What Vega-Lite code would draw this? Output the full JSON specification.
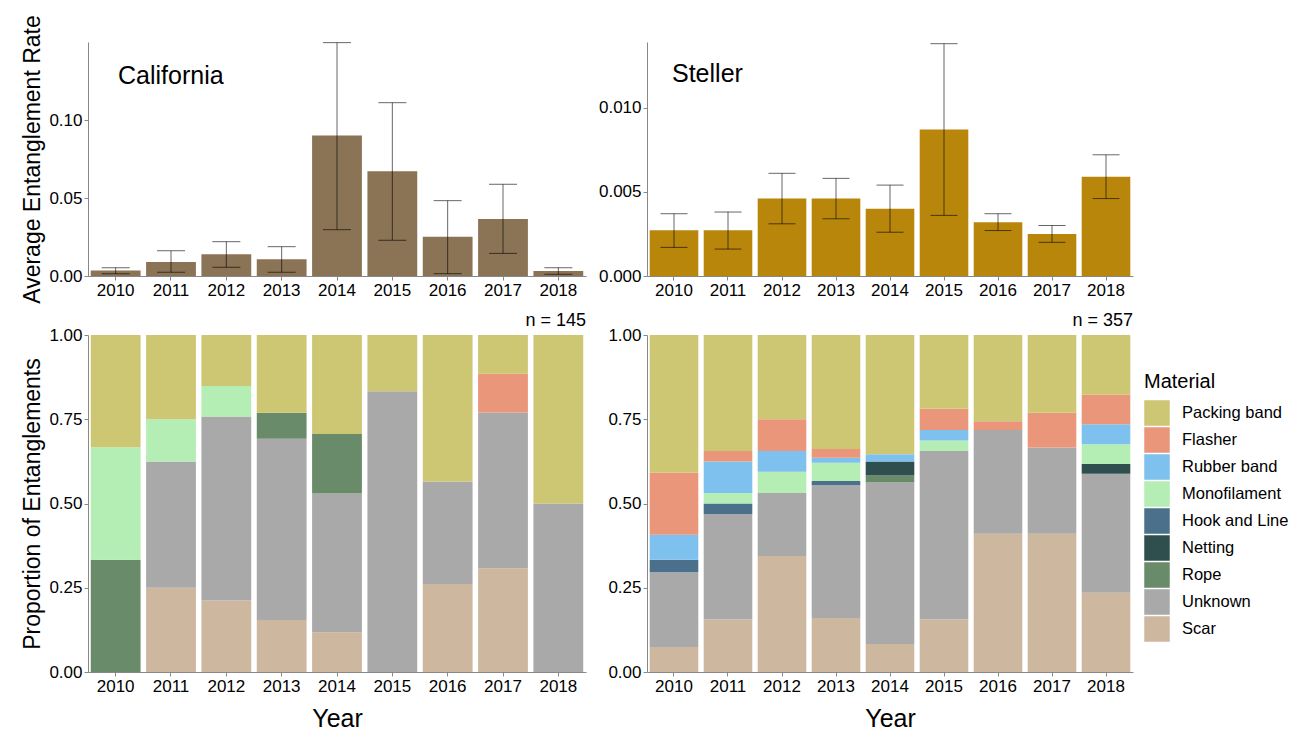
{
  "$schema": "https://vega.github.io/schema/vega-lite/v6.json",
  "padding": {"left": 21, "top": 14, "right": 5, "bottom": 2},
  "background": "white",
  "datasets": {
    "cal_rate": [
      {"year": "2010", "rate": 0.0036, "lo": 0.0015, "hi": 0.0053},
      {"year": "2011", "rate": 0.0090, "lo": 0.0024, "hi": 0.0162},
      {"year": "2012", "rate": 0.0139, "lo": 0.0056, "hi": 0.0220},
      {"year": "2013", "rate": 0.0107, "lo": 0.0024, "hi": 0.0188},
      {"year": "2014", "rate": 0.0900, "lo": 0.0297, "hi": 0.1496},
      {"year": "2015", "rate": 0.0671, "lo": 0.0229, "hi": 0.1111},
      {"year": "2016", "rate": 0.0252, "lo": 0.0015, "hi": 0.0483},
      {"year": "2017", "rate": 0.0365, "lo": 0.0145, "hi": 0.0588},
      {"year": "2018", "rate": 0.0032, "lo": 0.0011, "hi": 0.0053}
    ],
    "stel_rate": [
      {"year": "2010", "rate": 0.00272, "lo": 0.0017, "hi": 0.0037},
      {"year": "2011", "rate": 0.00272, "lo": 0.0016, "hi": 0.0038},
      {"year": "2012", "rate": 0.0046, "lo": 0.0031, "hi": 0.0061},
      {"year": "2013", "rate": 0.0046, "lo": 0.0034, "hi": 0.0058},
      {"year": "2014", "rate": 0.0040, "lo": 0.0026, "hi": 0.0054},
      {"year": "2015", "rate": 0.0087, "lo": 0.0036, "hi": 0.0138},
      {"year": "2016", "rate": 0.0032, "lo": 0.0027, "hi": 0.0037},
      {"year": "2017", "rate": 0.0025, "lo": 0.0020, "hi": 0.0030},
      {"year": "2018", "rate": 0.0059, "lo": 0.0046, "hi": 0.0072}
    ],
    "cal_prop": [
      {"year": "2010", "material": "Rope", "ord": 3, "p": 0.3333},
      {"year": "2010", "material": "Monofilament", "ord": 6, "p": 0.3333},
      {"year": "2010", "material": "Packing band", "ord": 9, "p": 0.3334},
      {"year": "2011", "material": "Scar", "ord": 1, "p": 0.25},
      {"year": "2011", "material": "Unknown", "ord": 2, "p": 0.375},
      {"year": "2011", "material": "Monofilament", "ord": 6, "p": 0.125},
      {"year": "2011", "material": "Packing band", "ord": 9, "p": 0.25},
      {"year": "2012", "material": "Scar", "ord": 1, "p": 0.212},
      {"year": "2012", "material": "Unknown", "ord": 2, "p": 0.546},
      {"year": "2012", "material": "Monofilament", "ord": 6, "p": 0.091},
      {"year": "2012", "material": "Packing band", "ord": 9, "p": 0.151},
      {"year": "2013", "material": "Scar", "ord": 1, "p": 0.154},
      {"year": "2013", "material": "Unknown", "ord": 2, "p": 0.538},
      {"year": "2013", "material": "Rope", "ord": 3, "p": 0.077},
      {"year": "2013", "material": "Packing band", "ord": 9, "p": 0.231},
      {"year": "2014", "material": "Scar", "ord": 1, "p": 0.118},
      {"year": "2014", "material": "Unknown", "ord": 2, "p": 0.412},
      {"year": "2014", "material": "Rope", "ord": 3, "p": 0.176},
      {"year": "2014", "material": "Packing band", "ord": 9, "p": 0.294},
      {"year": "2015", "material": "Unknown", "ord": 2, "p": 0.833},
      {"year": "2015", "material": "Packing band", "ord": 9, "p": 0.167},
      {"year": "2016", "material": "Scar", "ord": 1, "p": 0.261},
      {"year": "2016", "material": "Unknown", "ord": 2, "p": 0.304},
      {"year": "2016", "material": "Packing band", "ord": 9, "p": 0.435},
      {"year": "2017", "material": "Scar", "ord": 1, "p": 0.308},
      {"year": "2017", "material": "Unknown", "ord": 2, "p": 0.462},
      {"year": "2017", "material": "Flasher", "ord": 8, "p": 0.115},
      {"year": "2017", "material": "Packing band", "ord": 9, "p": 0.115},
      {"year": "2018", "material": "Unknown", "ord": 2, "p": 0.5},
      {"year": "2018", "material": "Packing band", "ord": 9, "p": 0.5}
    ],
    "stel_prop": [
      {"year": "2010", "material": "Scar", "ord": 1, "p": 0.074},
      {"year": "2010", "material": "Unknown", "ord": 2, "p": 0.222},
      {"year": "2010", "material": "Hook and Line", "ord": 5, "p": 0.037},
      {"year": "2010", "material": "Rubber band", "ord": 7, "p": 0.074},
      {"year": "2010", "material": "Flasher", "ord": 8, "p": 0.185},
      {"year": "2010", "material": "Packing band", "ord": 9, "p": 0.408},
      {"year": "2011", "material": "Scar", "ord": 1, "p": 0.156},
      {"year": "2011", "material": "Unknown", "ord": 2, "p": 0.313},
      {"year": "2011", "material": "Hook and Line", "ord": 5, "p": 0.031},
      {"year": "2011", "material": "Monofilament", "ord": 6, "p": 0.031},
      {"year": "2011", "material": "Rubber band", "ord": 7, "p": 0.094},
      {"year": "2011", "material": "Flasher", "ord": 8, "p": 0.031},
      {"year": "2011", "material": "Packing band", "ord": 9, "p": 0.344},
      {"year": "2012", "material": "Scar", "ord": 1, "p": 0.344},
      {"year": "2012", "material": "Unknown", "ord": 2, "p": 0.187},
      {"year": "2012", "material": "Monofilament", "ord": 6, "p": 0.063},
      {"year": "2012", "material": "Rubber band", "ord": 7, "p": 0.062},
      {"year": "2012", "material": "Flasher", "ord": 8, "p": 0.094},
      {"year": "2012", "material": "Packing band", "ord": 9, "p": 0.25},
      {"year": "2013", "material": "Scar", "ord": 1, "p": 0.16},
      {"year": "2013", "material": "Unknown", "ord": 2, "p": 0.394},
      {"year": "2013", "material": "Hook and Line", "ord": 5, "p": 0.013},
      {"year": "2013", "material": "Monofilament", "ord": 6, "p": 0.054},
      {"year": "2013", "material": "Rubber band", "ord": 7, "p": 0.015},
      {"year": "2013", "material": "Flasher", "ord": 8, "p": 0.026},
      {"year": "2013", "material": "Packing band", "ord": 9, "p": 0.338},
      {"year": "2014", "material": "Scar", "ord": 1, "p": 0.083},
      {"year": "2014", "material": "Unknown", "ord": 2, "p": 0.479},
      {"year": "2014", "material": "Rope", "ord": 3, "p": 0.021},
      {"year": "2014", "material": "Netting", "ord": 4, "p": 0.042},
      {"year": "2014", "material": "Rubber band", "ord": 7, "p": 0.021},
      {"year": "2014", "material": "Packing band", "ord": 9, "p": 0.354},
      {"year": "2015", "material": "Scar", "ord": 1, "p": 0.156},
      {"year": "2015", "material": "Unknown", "ord": 2, "p": 0.5},
      {"year": "2015", "material": "Monofilament", "ord": 6, "p": 0.031},
      {"year": "2015", "material": "Rubber band", "ord": 7, "p": 0.031},
      {"year": "2015", "material": "Flasher", "ord": 8, "p": 0.063},
      {"year": "2015", "material": "Packing band", "ord": 9, "p": 0.219},
      {"year": "2016", "material": "Scar", "ord": 1, "p": 0.41},
      {"year": "2016", "material": "Unknown", "ord": 2, "p": 0.308},
      {"year": "2016", "material": "Flasher", "ord": 8, "p": 0.026},
      {"year": "2016", "material": "Packing band", "ord": 9, "p": 0.256},
      {"year": "2017", "material": "Scar", "ord": 1, "p": 0.41},
      {"year": "2017", "material": "Unknown", "ord": 2, "p": 0.256},
      {"year": "2017", "material": "Flasher", "ord": 8, "p": 0.103},
      {"year": "2017", "material": "Packing band", "ord": 9, "p": 0.231},
      {"year": "2018", "material": "Scar", "ord": 1, "p": 0.235},
      {"year": "2018", "material": "Unknown", "ord": 2, "p": 0.353},
      {"year": "2018", "material": "Netting", "ord": 4, "p": 0.029},
      {"year": "2018", "material": "Monofilament", "ord": 6, "p": 0.059},
      {"year": "2018", "material": "Rubber band", "ord": 7, "p": 0.059},
      {"year": "2018", "material": "Flasher", "ord": 8, "p": 0.088},
      {"year": "2018", "material": "Packing band", "ord": 9, "p": 0.177}
    ]
  },
  "columns": 2,
  "align": "each",
  "spacing": {"row": 8, "column": 12},
  "resolve": {"scale": {"color": "independent", "x": "independent", "y": "independent"}, "legend": {"color": "independent"}},
  "concat": [
    {
      "width": 498, "height": 234,
      "data": {"name": "cal_rate"},
      "title": {"text": "California", "anchor": "start", "frame": "group", "orient": "top", "offset": -74, "dx": 30, "fontSize": 25, "fontWeight": "normal", "font": "Liberation Sans", "color": "black"},
      "encoding": {
        "x": {"field": "year", "type": "nominal", "scale": {"paddingInner": 0.1, "paddingOuter": 0.05}, "axis": {"title": null, "labelAngle": 0}}
      },
      "layer": [
        {"mark": {"type": "bar", "color": "#8B7355"},
         "encoding": {"y": {"field": "rate", "type": "quantitative", "scale": {"domain": [0, 0.15], "nice": false}, "axis": {"title": "Average Entanglement Rate", "values": [0, 0.05, 0.1], "format": ".2f"}}}},
        {"mark": {"type": "rule", "color": "black", "opacity": 0.6, "strokeWidth": 1},
         "encoding": {"y": {"field": "lo", "type": "quantitative"}, "y2": {"field": "hi"}}},
        {"mark": {"type": "tick", "color": "black", "opacity": 0.6, "thickness": 1, "size": 28},
         "encoding": {"y": {"field": "lo", "type": "quantitative"}}},
        {"mark": {"type": "tick", "color": "black", "opacity": 0.6, "thickness": 1, "size": 28},
         "encoding": {"y": {"field": "hi", "type": "quantitative"}}}
      ]
    },
    {
      "width": 486, "height": 234,
      "data": {"name": "stel_rate"},
      "title": {"text": "Steller", "anchor": "start", "frame": "group", "orient": "top", "offset": -45, "dx": 25, "fontSize": 25, "fontWeight": "normal", "font": "Liberation Sans", "color": "black"},
      "encoding": {
        "x": {"field": "year", "type": "nominal", "scale": {"paddingInner": 0.1, "paddingOuter": 0.05}, "axis": {"title": null, "labelAngle": 0}}
      },
      "layer": [
        {"mark": {"type": "bar", "color": "#B8860B"},
         "encoding": {"y": {"field": "rate", "type": "quantitative", "scale": {"domain": [0, 0.0139], "nice": false}, "axis": {"title": null, "values": [0, 0.005, 0.01], "format": ".3f"}}}},
        {"mark": {"type": "rule", "color": "black", "opacity": 0.6, "strokeWidth": 1},
         "encoding": {"y": {"field": "lo", "type": "quantitative"}, "y2": {"field": "hi"}}},
        {"mark": {"type": "tick", "color": "black", "opacity": 0.6, "thickness": 1, "size": 27},
         "encoding": {"y": {"field": "lo", "type": "quantitative"}}},
        {"mark": {"type": "tick", "color": "black", "opacity": 0.6, "thickness": 1, "size": 27},
         "encoding": {"y": {"field": "hi", "type": "quantitative"}}}
      ]
    },
    {
      "width": 498, "height": 337,
      "data": {"name": "cal_prop"},
      "title": {"text": "n = 145", "anchor": "end", "frame": "group", "orient": "top", "offset": -4, "fontSize": 18, "fontWeight": "normal", "font": "Liberation Sans", "color": "black"},
      "mark": {"type": "bar"},
      "encoding": {
        "x": {"field": "year", "type": "nominal", "scale": {"paddingInner": 0.1, "paddingOuter": 0.05}, "axis": {"title": "Year", "labelAngle": 0, "titleFontSize": 25, "titlePadding": 12}},
        "y": {"field": "p", "type": "quantitative", "stack": true, "scale": {"domain": [0, 1], "nice": false}, "axis": {"title": "Proportion of Entanglements", "values": [0, 0.25, 0.5, 0.75, 1], "format": ".2f"}},
        "order": {"field": "ord", "type": "quantitative", "sort": "ascending"},
        "color": {"field": "material", "type": "nominal", "legend": null,
          "scale": {"domain": ["Packing band", "Flasher", "Rubber band", "Monofilament", "Hook and Line", "Netting", "Rope", "Unknown", "Scar"],
                    "range": ["#CDC673", "#E9967A", "#7EC0EE", "#B4EEB4", "#4A708B", "#2F4F4F", "#698B69", "#A9A9A9", "#CDB79E"]}}
      }
    },
    {
      "width": 486, "height": 337,
      "data": {"name": "stel_prop"},
      "title": {"text": "n = 357", "anchor": "end", "frame": "group", "orient": "top", "offset": -4, "fontSize": 18, "fontWeight": "normal", "font": "Liberation Sans", "color": "black"},
      "mark": {"type": "bar"},
      "encoding": {
        "x": {"field": "year", "type": "nominal", "scale": {"paddingInner": 0.1, "paddingOuter": 0.05}, "axis": {"title": "Year", "labelAngle": 0, "titleFontSize": 25, "titlePadding": 12}},
        "y": {"field": "p", "type": "quantitative", "stack": true, "scale": {"domain": [0, 1], "nice": false}, "axis": {"title": null, "values": [0, 0.25, 0.5, 0.75, 1], "format": ".2f"}},
        "order": {"field": "ord", "type": "quantitative", "sort": "ascending"},
        "color": {"field": "material", "type": "nominal", "title": "Material",
          "scale": {"domain": ["Packing band", "Flasher", "Rubber band", "Monofilament", "Hook and Line", "Netting", "Rope", "Unknown", "Scar"],
                    "range": ["#CDC673", "#E9967A", "#7EC0EE", "#B4EEB4", "#4A708B", "#2F4F4F", "#698B69", "#A9A9A9", "#CDB79E"]},
          "legend": {"orient": "none", "legendX": 497, "legendY": 37, "symbolType": "square", "symbolSize": 650, "symbolStrokeWidth": 0, "symbolOpacity": 1, "rowPadding": 1, "labelOffset": 12, "titlePadding": 8}}
      }
    }
  ],
  "config": {
    "font": "Liberation Sans",
    "view": {"stroke": null},
    "axis": {"grid": false, "domainColor": "#888888", "tickColor": "#888888", "tickSize": 4, "labelPadding": 2, "labelColor": "black", "labelFont": "Liberation Sans", "labelFontSize": 17, "titleFont": "Liberation Sans", "titleFontWeight": "normal", "titleFontSize": 23, "titleColor": "black", "titlePadding": 4},
    "legend": {"titleFont": "Liberation Sans", "titleFontSize": 20, "titleFontWeight": "normal", "titleColor": "black", "labelFont": "Liberation Sans", "labelFontSize": 16.5, "labelColor": "black"},
    "title": {"font": "Liberation Sans"}
  }
}
